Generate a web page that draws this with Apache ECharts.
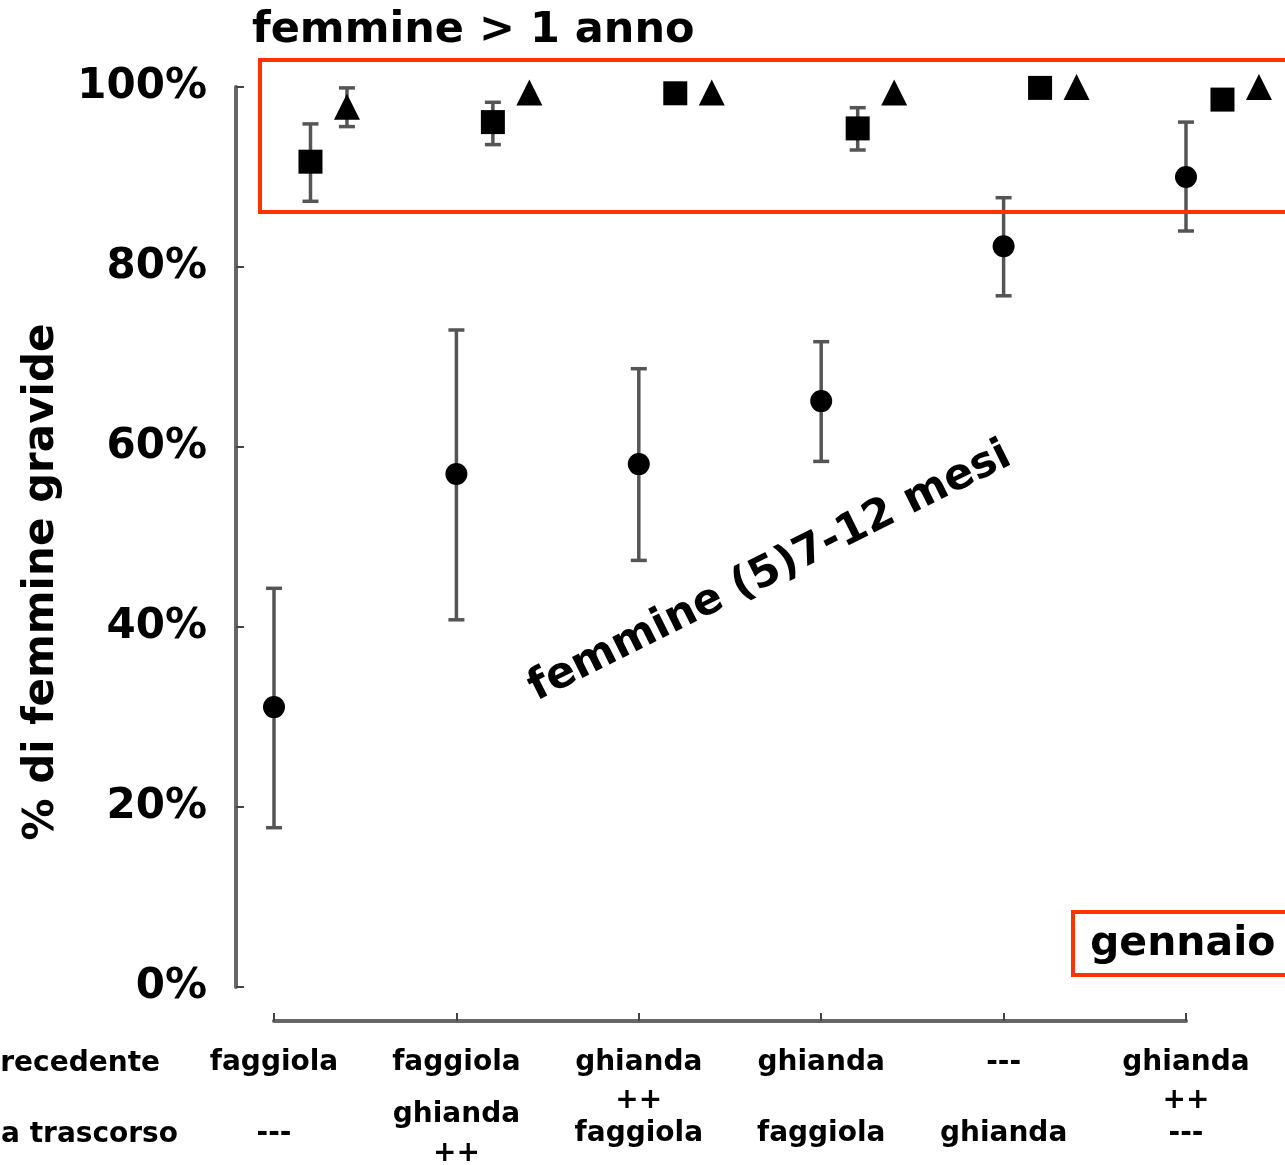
<!DOCTYPE html>
<html><head><meta charset="utf-8">
<script src="https://cdn.jsdelivr.net/npm/echarts@6/dist/echarts.min.js"></script>
<style>html,body{margin:0;padding:0;background:#fff}#c{width:1285px;height:1165px}</style>
</head><body><div id="c"></div>
<script>
// ---- data ----
const groups = [0, 1, 2, 3, 4, 5];
const precedente = ['faggiola', 'faggiola', 'ghianda\n++', 'ghianda', '---', 'ghianda\n++'];
const trascorso = ['---', 'ghianda\n++', 'faggiola', 'faggiola', 'ghianda', '---'];
// femmine (5)7-12 mesi (circles)
const giovani     = [31.1, 57.0, 58.1, 65.1, 82.3, 90.0];
const giovaniLow  = [17.7, 40.8, 47.4, 58.4, 76.8, 84.0];
const giovaniHigh = [44.3, 73.0, 68.7, 71.7, 87.7, 96.1];
// femmine > 1 anno (squares)
const adulteQ     = [91.7, 96.1, 99.3, 95.4, 99.9, 98.6];
const adulteQLow  = [87.3, 93.6, null, 93.0, null, null];
const adulteQHigh = [95.9, 98.3, null, 97.7, null, null];
// femmine > 1 anno (triangles)
const adulteT     = [97.8, 99.4, 99.4, 99.4, 100, 100];
const adulteTLow  = [95.6, null, null, null, null, null];
const adulteTHigh = [99.9, null, null, null, null, null];

const FONT = '"DejaVu Sans", Verdana, sans-serif';
const offQ = 0.2, offT = 0.4;

function pts(vals, off) { return groups.map(i => [i + off, vals[i]]); }
function errs(lo, hi, off) {
  return groups.filter(i => lo[i] != null).map(i => [i + off, lo[i], hi[i]]);
}
function errRender(params, api) {
  const x = api.value(0), lo = api.value(1), hi = api.value(2);
  const a = api.coord([x, hi]), b = api.coord([x, lo]);
  const w = 8;
  const st = { stroke: '#555', lineWidth: 3.5 };
  return { type: 'group', children: [
    { type: 'line', shape: { x1: a[0], y1: a[1], x2: b[0], y2: b[1] }, style: st },
    { type: 'line', shape: { x1: a[0] - w, y1: a[1], x2: a[0] + w, y2: a[1] }, style: st },
    { type: 'line', shape: { x1: b[0] - w, y1: b[1], x2: b[0] + w, y2: b[1] }, style: st }
  ]};
}
function errSeries(lo, hi, off) {
  return { type: 'custom', renderItem: errRender, clip: false, silent: true, z: 2,
    encode: { x: 0, y: [1, 2] }, data: errs(lo, hi, off) };
}
function scat(vals, off, symbol, size) {
  return { type: 'scatter', clip: false, symbol: symbol, symbolSize: size, z: 3,
    itemStyle: { color: '#000', opacity: 1 }, data: pts(vals, off) };
}

const chart = echarts.init(document.getElementById('c'), null, { renderer: 'canvas' });
chart.setOption({
  animation: false,
  backgroundColor: '#fff',
  grid: { left: 274, right: 99, top: 87, bottom: 178, containLabel: false, outerBoundsMode: 'none' },
  xAxis: [{
    type: 'value', min: 0, max: 5, interval: 1, position: 'bottom', offset: 34,
    splitLine: { show: false },
    axisLine: { onZero: false, lineStyle: { color: '#666', width: 4 } },
    axisTick: { inside: true, length: 8, lineStyle: { color: '#444', width: 2 } },
    axisLabel: { formatter: v => precedente[Math.round(v)], margin: 23, lineHeight: 38,
      verticalAlign: 'top', color: '#000', fontFamily: FONT, fontWeight: 'bold', fontSize: 28,
      showMinLabel: true, showMaxLabel: true, hideOverlap: false }
  }, {
    type: 'value', min: 0, max: 5, interval: 1, position: 'bottom', offset: 34,
    splitLine: { show: false }, axisLine: { show: false, onZero: false }, axisTick: { show: false },
    axisLabel: { formatter: v => trascorso[Math.round(v)], margin: 113, lineHeight: 39,
      verticalAlign: 'middle', color: '#000', fontFamily: FONT, fontWeight: 'bold', fontSize: 28,
      showMinLabel: true, showMaxLabel: true, hideOverlap: false }
  }],
  yAxis: {
    type: 'value', min: 0, max: 100, interval: 20, offset: 38,
    splitLine: { show: false },
    axisLine: { show: true, onZero: false, lineStyle: { color: '#666', width: 4 } },
    axisTick: { show: true, inside: true, length: 8, lineStyle: { color: '#444', width: 2 } },
    axisLabel: { formatter: '{value}%', margin: 29, color: '#000', fontFamily: FONT,
      fontWeight: 'bold', fontSize: 42, showMinLabel: true, showMaxLabel: true }
  },
  series: [
    errSeries(giovaniLow, giovaniHigh, 0),
    errSeries(adulteQLow, adulteQHigh, offQ),
    errSeries(adulteTLow, adulteTHigh, offT),
    scat(giovani, 0, 'circle', 22),
    scat(adulteQ, offQ, 'rect', 24),
    scat(adulteT, offT, 'triangle', 26)
  ],
  graphic: [
    { type: 'rect', shape: { x: 260, y: 60, width: 1050, height: 152 },
      style: { fill: 'none', stroke: '#ff3300', lineWidth: 4 }, z: 10 },
    { type: 'rect', shape: { x: 1073, y: 912, width: 230, height: 63 },
      style: { fill: 'none', stroke: '#ff3300', lineWidth: 4 }, z: 10 },
    { type: 'text', x: 1090, y: 944, style: { text: 'gennaio', fill: '#000',
      font: 'bold 41px ' + FONT, align: 'left', verticalAlign: 'middle' }, z: 10 },
    { type: 'text', x: 252, y: 31, style: { text: 'femmine > 1 anno', fill: '#000',
      font: 'bold 43px ' + FONT, align: 'left', verticalAlign: 'middle' }, z: 10 },
    { type: 'text', x: 42, y: 582, rotation: Math.PI / 2, style: { text: '% di femmine gravide', fill: '#000',
      font: 'bold 42px ' + FONT, align: 'center', verticalAlign: 'middle' }, z: 10 },
    { type: 'text', x: 770, y: 572, rotation: 26.5 * Math.PI / 180, style: { text: 'femmine (5)7-12 mesi', fill: '#000',
      font: 'bold 43px ' + FONT, align: 'center', verticalAlign: 'middle' }, z: 10 },
    { type: 'text', x: 160, y: 1064, style: { text: 'precedente', fill: '#000',
      font: 'bold 28px ' + FONT, align: 'right', verticalAlign: 'middle' }, z: 10 },
    { type: 'text', x: 178, y: 1135, style: { text: 'a trascorso', fill: '#000',
      font: 'bold 28px ' + FONT, align: 'right', verticalAlign: 'middle' }, z: 10 }
  ]
});
</script>
</body></html>
